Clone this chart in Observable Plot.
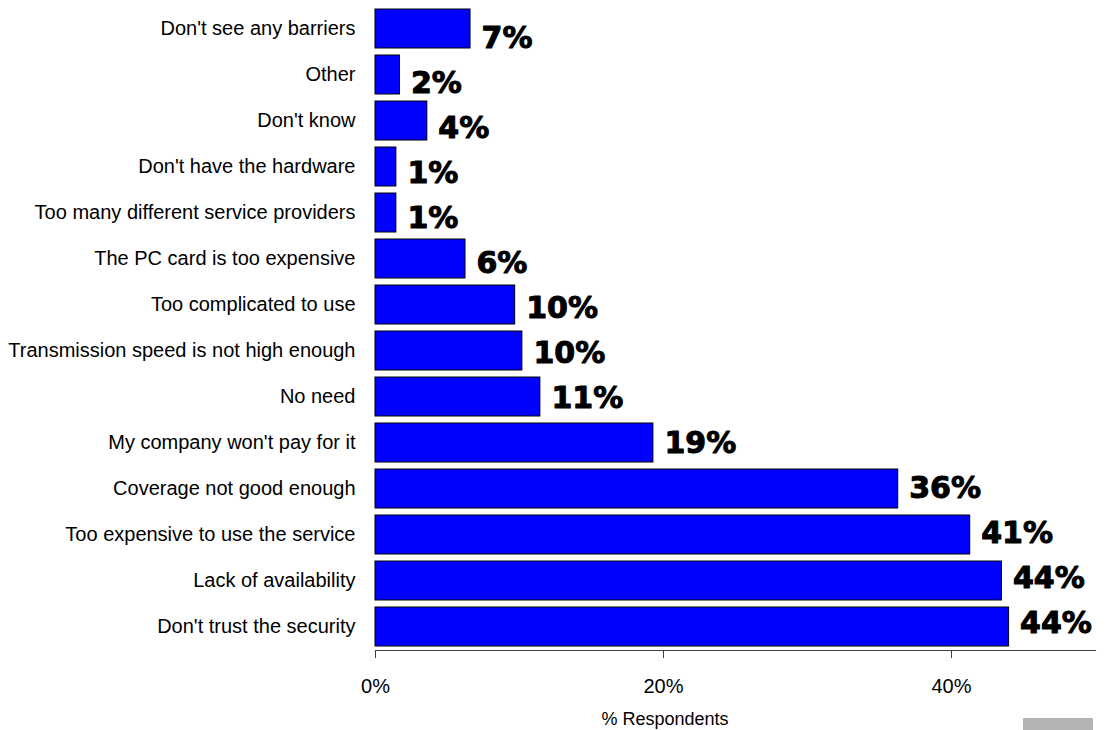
<!DOCTYPE html>
<html>
<head>
<meta charset="utf-8">
<script src="https://cdn.jsdelivr.net/npm/d3@7"></script>
<script src="https://cdn.jsdelivr.net/npm/@observablehq/plot@0.6"></script>
<style>
  html, body { margin: 0; padding: 0; background: #fff; }
  #wrap { position: relative; width: 1108px; height: 730px; overflow: hidden; }
  #wrap svg { position: absolute; left: 0; top: 0; }
  #xlabel { position: absolute; top: 709px; left: 565px; width: 200px; text-align: center;
            font-family: "Liberation Sans", Arial, sans-serif; font-size: 18px; color: #000; }
  #corner { position: absolute; left: 1023px; top: 718px; width: 70px; height: 12px; background: #b4b4b4; }
</style>
</head>
<body>
<div id="wrap"><div id="xlabel">% Respondents</div><div id="corner"></div></div>
<script>
const categories = [
  "Don't see any barriers",
  "Other",
  "Don't know",
  "Don't have the hardware",
  "Too many different service providers",
  "The PC card is too expensive",
  "Too complicated to use",
  "Transmission speed is not high enough",
  "No need",
  "My company won't pay for it",
  "Coverage not good enough",
  "Too expensive to use the service",
  "Lack of availability",
  "Don't trust the security"
];
const values = [6.6, 1.7, 3.6, 1.45, 1.45, 6.25, 9.7, 10.2, 11.45, 19.3, 36.3, 41.3, 43.5, 44.0];
const shownPercents = [7, 2, 4, 1, 1, 6, 10, 10, 11, 19, 36, 41, 44, 44];
const xTicks = [0, 20, 40];

const data = categories.map((c, i) => ({category: c, value: values[i], label: shownPercents[i] + "%"}));

const W = 1108, H = 730;

const chart = Plot.plot({
  width: W, height: H,
  marginLeft: 375, marginRight: 13, marginTop: 6, marginBottom: 80,
  style: {fontFamily: "'Liberation Sans', Arial, sans-serif", fontSize: "20px", color: "#000", background: "transparent"},
  x: {domain: [0, 50]},
  y: {domain: categories, paddingInner: 0.152, paddingOuter: 0.076},
  marks: [
    Plot.barX(data, {y: "category", x: "value", fill: "#0000ff", stroke: "#000", strokeWidth: 1}),
    Plot.frame({anchor: "bottom", stroke: "#404040", strokeWidth: 1.2}),
    Plot.axisY({tickSize: 0, tickPadding: 20, fontSize: 20, label: null, fill: "#000"}),
    Plot.axisX({ticks: xTicks, tickFormat: d => d + "%", tickSize: 8, tickPadding: 20, fontSize: 20, label: null, stroke: "#404040", fill: "#000"})
  ]
});

// value labels: own point layout (slightly tighter spacing than the bars, as in the reference)
const labelsPlot = Plot.plot({
  width: W, height: H,
  marginLeft: 375, marginRight: 13, marginTop: 36, marginBottom: H - 624.5,
  style: {background: "transparent"},
  x: {domain: [0, 50], axis: null},
  y: {domain: categories, padding: 0, axis: null},
  marks: [
    Plot.text(data, {y: "category", x: "value", text: "label", textAnchor: "start", dx: 11,
      fontFamily: "'DejaVu Sans', sans-serif", fontWeight: "bold", fontSize: 30,
      fill: "#000", stroke: "#000", strokeWidth: 1})
  ]
});

const wrap = document.getElementById("wrap");
wrap.prepend(chart);
labelsPlot.style.pointerEvents = "none";
wrap.appendChild(labelsPlot);
</script>
</body>
</html>
